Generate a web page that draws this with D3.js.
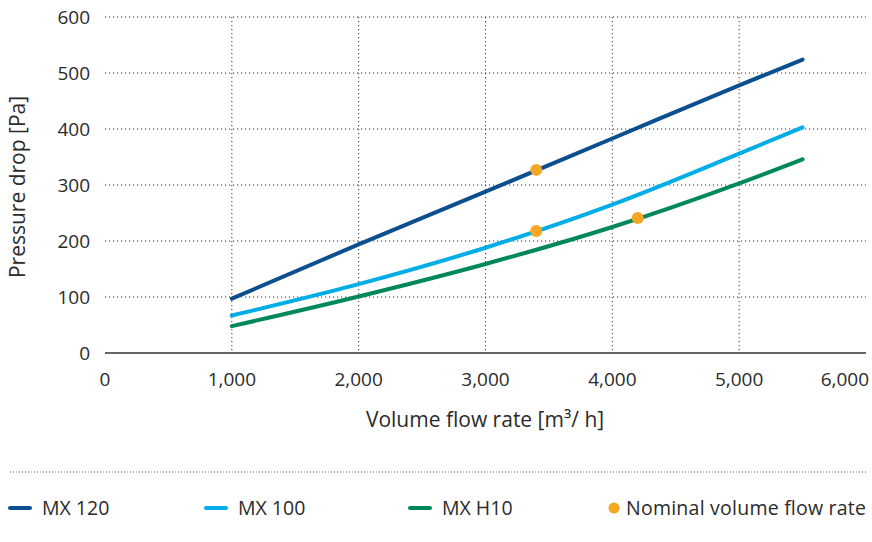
<!DOCTYPE html>
<html>
  <head>
    <meta charset="utf-8">
    <script src="https://d3js.org/d3.v7.min.js"></script>
    <style>
      body { margin: 0; background: #fff; }
      svg text { font-family: "Open Sans", "Noto Sans", sans-serif; fill: #2b2b2b; }
      .grid line { stroke: #333; stroke-width: 1; stroke-dasharray: 1.2,2.8; }
    </style>
  </head>
<body>
<script>
  // flow rate values (m3/h)
  var flow = [1000, 2000, 3000, 4000, 5000, 5500];
  // pressure drop per model (Pa)
  var mx120 = [97, 194, 288, 383, 478, 524];
  var mx100 = [67, 123, 188, 265, 356, 403];
  var mxh10 = [48, 101, 159, 225, 303, 346];
  var seriesNames = ["MX 120", "MX 100", "MX H10"];
  var colors = ["#0b4f8f", "#00ade6", "#00875a"];
  // nominal volume flow rate points
  var nominalFlow = [3400, 3400, 4200];
  var nominalPa = [327, 218, 241];
  var xTicks = [0, 1000, 2000, 3000, 4000, 5000, 6000];
  var yTicks = [0, 100, 200, 300, 400, 500, 600];

  var width = 872, height = 542;
  var margin = {left: 105, right: 6, top: 17, bottom: 189};

  var svg = d3.select("body").append("svg")
      .attr("width", width).attr("height", height);

  var x = d3.scaleLinear().domain([0, 6000]).range([margin.left, width - margin.right]);
  var y = d3.scaleLinear().domain([0, 600]).range([height - margin.bottom, margin.top]);

  var fmt = d3.format(",");

  // grid
  var grid = svg.append("g").attr("class", "grid");
  grid.selectAll(".h").data(yTicks.slice(1)).enter().append("line")
      .attr("x1", x(0)).attr("x2", x(6000))
      .attr("y1", function(d){ return y(d); }).attr("y2", function(d){ return y(d); });
  grid.selectAll(".v").data(xTicks.slice(1, -1)).enter().append("line")
      .attr("y1", y(600)).attr("y2", y(0))
      .attr("x1", function(d){ return x(d); }).attr("x2", function(d){ return x(d); });

  // axis line
  svg.append("line").attr("x1", x(0)).attr("x2", x(6000))
      .attr("y1", y(0)).attr("y2", y(0))
      .attr("stroke", "#333").attr("stroke-width", 1.5);

  // tick labels
  svg.selectAll(".yl").data(yTicks).enter().append("text")
      .attr("x", 90).attr("y", function(d){ return y(d); })
      .attr("dy", "0.35em").attr("text-anchor", "end")
      .style("font-size", "19px").text(function(d){ return d; });
  svg.selectAll(".xl").data(xTicks).enter().append("text")
      .attr("x", function(d){ return d === 6000 ? 869 : x(d); }).attr("y", 386)
      .attr("text-anchor", function(d){ return d === 6000 ? "end" : "middle"; })
      .style("font-size", "19px").text(function(d){ return fmt(d); });

  // axis titles
  svg.append("text").attr("x", 485).attr("y", 427).attr("text-anchor", "middle")
      .style("font-size", "21px").text("Volume flow rate [m³/ h]");
  svg.append("text").attr("transform", "translate(25,187) rotate(-90)")
      .attr("text-anchor", "middle")
      .style("font-size", "21px").text("Pressure drop [Pa]");

  // lines
  var line = d3.line()
      .x(function(d){ return x(d[0]); })
      .y(function(d){ return y(d[1]); })
      .curve(d3.curveMonotoneX);
  [mx120, mx100, mxh10].forEach(function(vals, i) {
    svg.append("path")
        .datum(flow.map(function(f, j){ return [f, vals[j]]; }))
        .attr("d", line)
        .attr("fill", "none")
        .attr("stroke", colors[i])
        .attr("stroke-width", 4)
        .attr("stroke-linecap", "round");
  });

  // nominal points
  svg.selectAll(".dot").data(nominalFlow).enter().append("circle")
      .attr("cx", function(d){ return x(d); })
      .attr("cy", function(d, i){ return y(nominalPa[i]); })
      .attr("r", 6).attr("fill", "#f5a623");

  // separator
  svg.append("line").attr("x1", 10).attr("x2", 866).attr("y1", 472).attr("y2", 472)
      .attr("stroke", "#555").attr("stroke-width", 1).attr("stroke-dasharray", "1,2");

  // legend
  var legX = [10, 206, 410];
  seriesNames.forEach(function(n, i) {
    svg.append("line").attr("x1", legX[i]).attr("x2", legX[i] + 20)
        .attr("y1", 508).attr("y2", 508)
        .attr("stroke", colors[i]).attr("stroke-width", 4).attr("stroke-linecap", "round");
    svg.append("text").attr("x", legX[i] + 32).attr("y", 508).attr("dy", "0.35em")
        .style("font-size", "19.5px").text(n);
  });
  svg.append("circle").attr("cx", 614).attr("cy", 508).attr("r", 5.5).attr("fill", "#f5a623");
  svg.append("text").attr("x", 626).attr("y", 508).attr("dy", "0.35em")
      .attr("textLength", 240)
      .style("font-size", "19.5px").text("Nominal volume flow rate");
</script>
</body>
</html>
